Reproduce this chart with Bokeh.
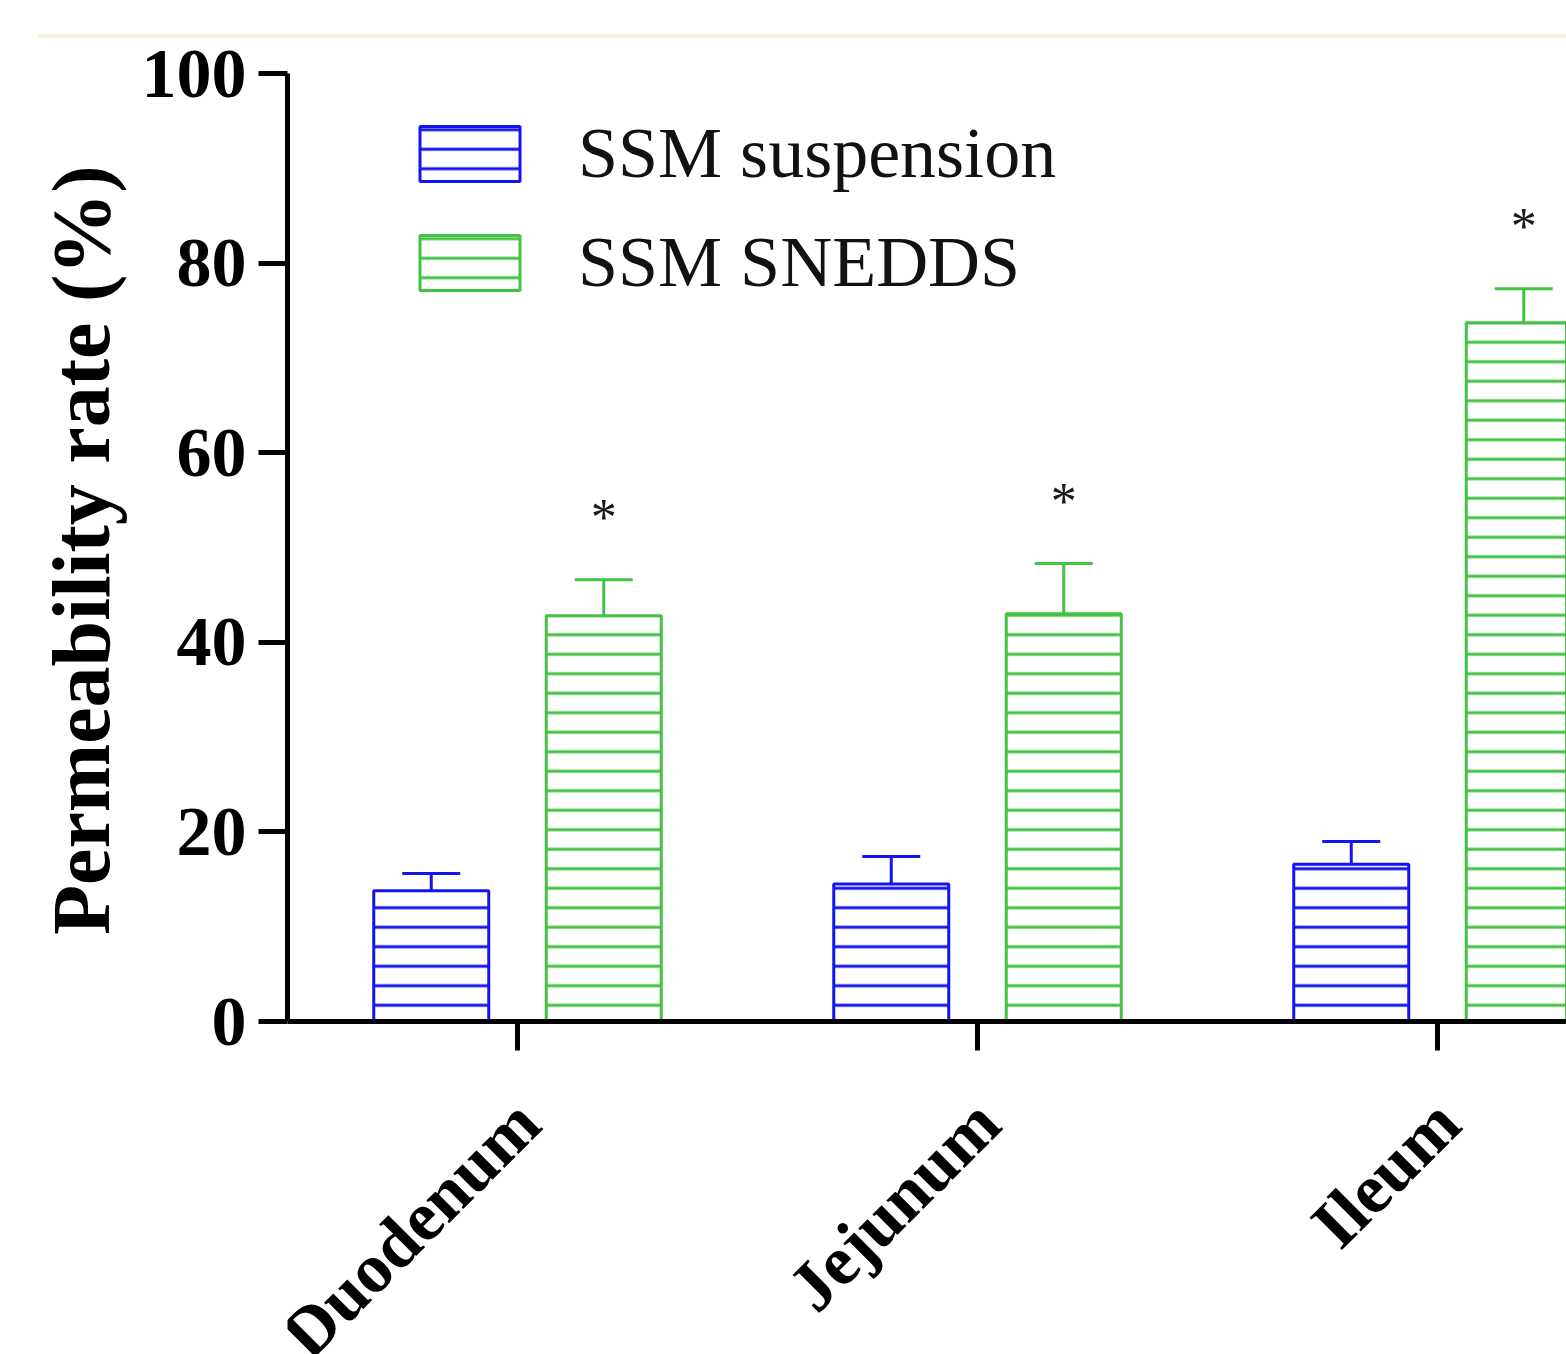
import math
from bokeh.plotting import figure
from bokeh.models import (ColumnDataSource, Range1d, FixedTicker, Whisker, TeeHead,
                          Legend, LegendItem, Span, Title)
from bokeh.core.properties import value
from bokeh.embed import file_html
from bokeh.resources import INLINE

# ---------------- data ----------------
categories = ["Duodenum", "Jejunum", "Ileum"]
series_names = ["SSM suspension", "SSM SNEDDS"]
suspension_mean = [13.8, 14.5, 16.6]
suspension_sd = [1.8, 2.9, 2.4]
snedds_mean = [42.8, 43.0, 73.7]
snedds_sd = [3.8, 5.3, 3.6]
significance = ["*", "*", "*"]
y_ticks = [0, 20, 40, 60, 80, 100]
y_label = "Permeability rate (%)"

# ---------------- style / layout ----------------
BLUE = "#1414f0"
GREEN = "#44c244"
SERIF = "Liberation Serif"
offset = 0.1875
bar_w = 0.25
W, H = 1566, 1354
LEFT, TOP = 287, 73
PX_PER_CAT = 460.0
PX_PER_UNIT = 9.48
x_start = -0.5
x_end = x_start + (W - LEFT) / PX_PER_CAT
y_top = 100
y_start = y_top - (H - TOP) / PX_PER_UNIT
tick_len = 29 / PX_PER_UNIT

xpos = list(range(len(categories)))
src_a = ColumnDataSource(dict(
    x=[i - offset for i in xpos],
    top=suspension_mean,
    upper=[m + s for m, s in zip(suspension_mean, suspension_sd)],
))
src_b = ColumnDataSource(dict(
    x=[i + offset for i in xpos],
    top=snedds_mean,
    upper=[m + s for m, s in zip(snedds_mean, snedds_sd)],
    star=significance,
))
src_cat = ColumnDataSource(dict(
    x=xpos, y=[0] * len(xpos), y1=[-tick_len] * len(xpos), label=categories,
))

p = figure(width=W, height=H,
           x_range=Range1d(x_start, x_end), y_range=Range1d(y_start, y_top),
           x_axis_location=None,
           output_backend="svg", toolbar_location=None,
           min_border_left=LEFT, min_border_right=0,
           min_border_top=TOP, min_border_bottom=0)
p.border_fill_color = None
p.background_fill_color = None
p.outline_line_color = None
p.styles = {"background": "linear-gradient(#f6efe1, #f6efe1) 38px 34px / 100% 4px no-repeat"}
p.xgrid.visible = False
p.ygrid.visible = False

common = dict(width=bar_w, bottom=0, fill_color="white", line_width=3,
              hatch_pattern="horizontal_line", hatch_scale=19.5, hatch_weight=3)
r1 = p.vbar(x="x", top="top", source=src_a, line_color=BLUE, hatch_color=BLUE, **common)
r2 = p.vbar(x="x", top="top", source=src_b, line_color=GREEN, hatch_color=GREEN, **common)

for src, col in ((src_a, BLUE), (src_b, GREEN)):
    w = Whisker(source=src, base="x", lower="top", upper="upper", dimension="height",
                line_color=col, line_width=3, lower_head=None,
                upper_head=TeeHead(size=58, line_color=col, line_width=3))
    p.add_layout(w)

p.text(x="x", y="upper", text="star", source=src_b,
       text_font=value(SERIF), text_font_size="52px", text_align="center",
       text_baseline="bottom", y_offset=-34, text_color="#1a1a1a")

# x axis drawn inside the frame so its labels run off the bottom edge like the original
p.add_layout(Span(location=0, dimension="width", line_color="black", line_width=5))
p.segment(x0="x", y0="y", x1="x", y1="y1", source=src_cat,
          line_color="black", line_width=5)
p.text(x="x", y="y", text="label", source=src_cat, angle=math.pi / 4,
       text_align="right", text_baseline="middle", x_offset=10, y_offset=90,
       text_font=value(SERIF), text_font_style="bold", text_font_size="70px",
       text_color="black")

ya = p.yaxis[0]
ya.ticker = FixedTicker(ticks=y_ticks)
ya.bounds = (0, 100)
ya.major_label_text_font = SERIF
ya.major_label_text_font_style = "bold"
ya.major_label_text_font_size = "70px"
ya.major_label_text_color = "black"
ya.major_label_standoff = 12
ya.axis_line_width = 5
ya.major_tick_line_width = 5
ya.major_tick_out = 29
ya.major_tick_in = 0
ya.minor_tick_line_color = None

# y-axis title centred on the 0-100 span (not the whole frame)
p.add_layout(Title(text=y_label, align="right", offset=92,
                   text_font=SERIF, text_font_style="bold", text_font_size="82px",
                   text_color="black", standoff=23), "left")

legend = Legend(items=[LegendItem(label=series_names[0], renderers=[r1]),
                       LegendItem(label=series_names[1], renderers=[r2])],
                location=(120, 1050), padding=0, margin=0, spacing=26,
                glyph_width=125, glyph_height=69, label_standoff=46,
                label_text_font=SERIF, label_text_font_size="72px",
                label_text_color="#111111",
                border_line_color=None, background_fill_alpha=0)
p.add_layout(legend)

open("out.html", "w").write(file_html(p, INLINE))
